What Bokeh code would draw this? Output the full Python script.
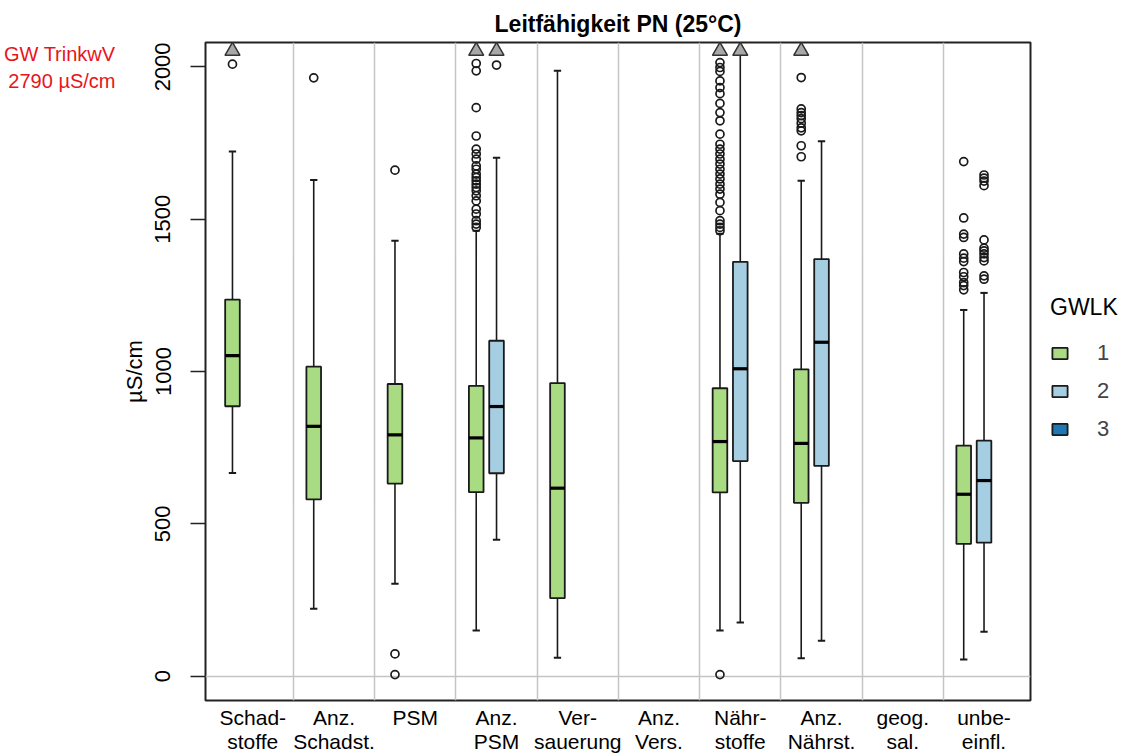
import math
from bokeh.plotting import figure
from bokeh.models import Range1d, FixedTicker, Legend, LegendItem, LinearAxis
from bokeh.embed import file_html
from bokeh.resources import INLINE

# ---------------- data ----------------
categories = ["Schad-\nstoffe", "Anz.\nSchadst.", "PSM", "Anz.\nPSM", "Ver-\nsauerung",
              "Anz.\nVers.", "Nähr-\nstoffe", "Anz.\nNährst.", "geog.\nsal.", "unbe-\neinfl."]
gwlk_labels = ["1", "2", "3"]
gwlk_colors = ["#A9DB82", "#A6CEE3", "#1F78B4"]

# GWLK 1
g1_cat = [0, 1, 2, 3, 4, 6, 7, 9]
g1_lower = [667, 221, 303, 150, 60, 150, 59, 55]
g1_q1 = [886, 580, 632, 604, 256, 603, 569, 434]
g1_median = [1052, 820, 792, 782, 617, 770, 764, 597]
g1_q3 = [1236, 1016, 959, 953, 962, 945, 1007, 757]
g1_upper = [1722, 1629, 1429, 1462, 1987, 1452, 1626, 1202]
g1_outliers = {
    0: [2009],
    1: [1964],
    2: [1661, 73, 5],
    3: [2011, 1987, 1866, 1773, 1730, 1714, 1697, 1675, 1664, 1648, 1637, 1626, 1615,
        1604, 1593, 1577, 1560, 1533, 1517, 1495, 1484, 1473],
    6: [2014, 1998, 1985, 1954, 1932, 1912, 1880, 1850, 1823, 1779, 1746, 1730, 1714,
        1697, 1681, 1664, 1648, 1632, 1615, 1599, 1582, 1555, 1528, 1495, 1484, 1473, 1462, 5],
    7: [1965, 1862, 1850, 1840, 1830, 1815, 1800, 1790, 1741, 1705],
    9: [1689, 1504, 1451, 1440, 1386, 1372, 1361, 1325, 1311, 1292, 1282, 1268],
}
g1_above = [0, 3, 6, 7]

# GWLK 2
g2_cat = [3, 6, 7, 9]
g2_lower = [448, 176, 116, 146]
g2_q1 = [666, 706, 690, 438]
g2_median = [885, 1009, 1096, 642]
g2_q3 = [1101, 1360, 1369, 773]
g2_upper = [1702, 2200, 1756, 1258]
g2_outliers = {
    3: [2006],
    9: [1645, 1635, 1625, 1610, 1432, 1405, 1396, 1386, 1374, 1363, 1314, 1303],
}
g2_above = [3, 6]

y_ticks = [0, 500, 1000, 1500, 2000]
limit_text = ["GW TrinkwV", "2790 µS/cm"]
title_text = "Leitfähigkeit PN (25°C)"
y_label = "µS/cm"
legend_title = "GWLK"

# ---------------- layout ----------------
FONT = "Liberation Sans"
XR = (-0.582, 9.572)
YR = (-80, 2080)
FL, FT, FW, FH = 205, 42, 825, 658
offsets = [-0.25, 0.0, 0.25]
BOX_W = 0.18
CAP_W = 0.09
TRI_Y = 2052
NOTE_Y = [2041, 1952]  # vertical slots of the two note lines (layout positions)
NAN = float("nan")

p = figure(frame_width=FW, frame_height=FH, x_range=Range1d(*XR), y_range=Range1d(*YR),
           output_backend="svg", toolbar_location=None,
           min_border_left=FL, min_border_top=FT, min_border_bottom=53, min_border_right=40)
p.background_fill_color = "white"
p.border_fill_color = "white"
p.outline_line_color = "#222222"
p.outline_line_width = 2

p.title.text = title_text
p.title.align = "center"
p.title.text_font = FONT
p.title.text_font_size = "23px"
p.title.text_font_style = "bold"
p.title.text_color = "black"
p.title.standoff = 11

# grids
p.xgrid.ticker = FixedTicker(ticks=[i + 0.5 for i in range(len(categories) - 1)])
p.ygrid.ticker = FixedTicker(ticks=[0])
p.grid.grid_line_color = "#C4C4C4"
p.grid.grid_line_width = 1.5

# axes
p.xaxis.ticker = FixedTicker(ticks=list(range(len(categories))))
p.xaxis.major_label_overrides = {i: c for i, c in enumerate(categories)}
p.xaxis.axis_line_color = None
p.xaxis.major_tick_line_color = None
p.xaxis.minor_tick_line_color = None
p.xaxis.major_tick_out = 0
p.xaxis.major_tick_in = 0
p.xaxis.major_label_text_font = FONT
p.xaxis.major_label_text_font_size = "21px"
p.xaxis.major_label_text_color = "black"
p.xaxis.major_label_text_line_height = 1.05
p.xaxis.major_label_standoff = 5

p.yaxis.ticker = FixedTicker(ticks=y_ticks)
p.yaxis.axis_line_color = None
p.yaxis.major_tick_out = 15
p.yaxis.major_tick_in = 0
p.yaxis.major_tick_line_width = 1.5
p.yaxis.major_tick_line_color = "#222222"
p.yaxis.minor_tick_line_color = None
p.yaxis.major_label_orientation = "vertical"
p.yaxis.major_label_text_font = FONT
p.yaxis.major_label_text_font_size = "22px"
p.yaxis.major_label_text_color = "black"
p.yaxis.major_label_standoff = 20
p.yaxis.axis_label = y_label
p.yaxis.axis_label_text_font = FONT
p.yaxis.axis_label_text_font_size = "22px"
p.yaxis.axis_label_text_font_style = "normal"
p.yaxis.axis_label_text_color = "black"
p.yaxis.axis_label_standoff = 6

# drinking-water limit note: an extra, line-less left axis carrying the two text lines
note_axis = LinearAxis(ticker=FixedTicker(ticks=NOTE_Y),
                       major_label_overrides={NOTE_Y[0]: limit_text[0], NOTE_Y[1]: limit_text[1]},
                       axis_line_color=None, major_tick_line_color=None,
                       minor_tick_line_color=None, major_tick_out=0, major_tick_in=0,
                       major_label_standoff=3, major_label_text_font=FONT,
                       major_label_text_font_size="20px", major_label_text_color="#E8141B")
p.add_layout(note_axis, "left")

LINE = "#1a1a1a"


def draw_series(cats, lower, q1, med, q3, upper, outliers, above, gi):
    xs = [c + offsets[gi] for c in cats]
    p.segment(x0=xs, x1=xs, y0=q3, y1=upper, line_color=LINE, line_width=1.6)
    p.segment(x0=xs, x1=xs, y0=lower, y1=q1, line_color=LINE, line_width=1.6)
    p.segment(x0=[x - CAP_W / 2 for x in xs], x1=[x + CAP_W / 2 for x in xs], y0=upper, y1=upper,
              line_color=LINE, line_width=2)
    p.segment(x0=[x - CAP_W / 2 for x in xs], x1=[x + CAP_W / 2 for x in xs], y0=lower, y1=lower,
              line_color=LINE, line_width=2)
    r = p.vbar(x=xs, width=BOX_W, top=q3, bottom=q1, fill_color=gwlk_colors[gi],
               line_color=LINE, line_width=1.8)
    p.segment(x0=[x - BOX_W / 2 for x in xs], x1=[x + BOX_W / 2 for x in xs], y0=med, y1=med,
              line_color="black", line_width=3.2)
    ox, oy = [], []
    for c, vals in outliers.items():
        for v in vals:
            ox.append(c + offsets[gi])
            oy.append(v)
    p.scatter(x=ox, y=oy, marker="circle", size=8, fill_color=None, line_color=LINE, line_width=1.7)
    p.scatter(x=[c + offsets[gi] for c in above], y=[TRI_Y] * len(above), marker="triangle",
              size=15, fill_color="#A8A8A8", line_color="#333333", line_width=1.5)
    return r


r1 = draw_series(g1_cat, g1_lower, g1_q1, g1_median, g1_q3, g1_upper, g1_outliers, g1_above, 0)
r2 = draw_series(g2_cat, g2_lower, g2_q1, g2_median, g2_q3, g2_upper, g2_outliers, g2_above, 1)
r3 = p.vbar(x=[NAN], width=BOX_W, top=[NAN], bottom=[NAN],
            fill_color=gwlk_colors[2], line_color=LINE, line_width=1.8)

legend = Legend(items=[LegendItem(label=gwlk_labels[0], renderers=[r1]),
                       LegendItem(label=gwlk_labels[1], renderers=[r2]),
                       LegendItem(label=gwlk_labels[2], renderers=[r3])],
                location=(20, 258), margin=0, padding=0, spacing=12,
                glyph_width=19, glyph_height=14, label_standoff=28,
                label_text_font=FONT, label_text_font_size="22px", label_height=26,
                title=legend_title, title_text_font=FONT, title_text_font_size="23px",
                title_text_font_style="normal", title_text_color="black", title_standoff=19,
                border_line_color=None, background_fill_alpha=0)
p.add_layout(legend, "right")

open("out.html", "w").write(file_html(p, INLINE))
